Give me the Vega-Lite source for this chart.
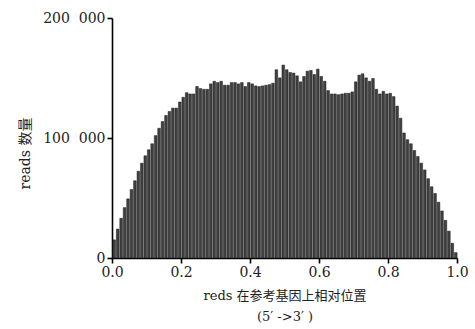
{
  "$schema": "https://vega.github.io/schema/vega-lite/v6.json",
  "width": 345,
  "height": 240,
  "autosize": {"type": "none"},
  "padding": {"left": 112, "top": 18, "right": 18, "bottom": 71},
  "background": "white",
  "config": {
    "view": {"stroke": null},
    "font": "DejaVu Serif, Noto Sans CJK SC"
  },
  "data": {
    "values": [
      {"start": 0.00, "end": 0.01, "reads": 15100},
      {"start": 0.01, "end": 0.02, "reads": 24100},
      {"start": 0.02, "end": 0.03, "reads": 33100},
      {"start": 0.03, "end": 0.04, "reads": 42000},
      {"start": 0.04, "end": 0.05, "reads": 49300},
      {"start": 0.05, "end": 0.06, "reads": 57100},
      {"start": 0.06, "end": 0.07, "reads": 64400},
      {"start": 0.07, "end": 0.08, "reads": 72300},
      {"start": 0.08, "end": 0.09, "reads": 79000},
      {"start": 0.09, "end": 0.10, "reads": 85200},
      {"start": 0.10, "end": 0.11, "reads": 90200},
      {"start": 0.11, "end": 0.12, "reads": 95200},
      {"start": 0.12, "end": 0.13, "reads": 102000},
      {"start": 0.13, "end": 0.14, "reads": 108100},
      {"start": 0.14, "end": 0.15, "reads": 113700},
      {"start": 0.15, "end": 0.16, "reads": 118800},
      {"start": 0.16, "end": 0.17, "reads": 122100},
      {"start": 0.17, "end": 0.18, "reads": 124900},
      {"start": 0.18, "end": 0.19, "reads": 124900},
      {"start": 0.19, "end": 0.20, "reads": 130000},
      {"start": 0.20, "end": 0.21, "reads": 133900},
      {"start": 0.21, "end": 0.22, "reads": 137800},
      {"start": 0.22, "end": 0.23, "reads": 136700},
      {"start": 0.23, "end": 0.24, "reads": 136700},
      {"start": 0.24, "end": 0.25, "reads": 142900},
      {"start": 0.25, "end": 0.26, "reads": 141200},
      {"start": 0.26, "end": 0.27, "reads": 140600},
      {"start": 0.27, "end": 0.28, "reads": 140600},
      {"start": 0.28, "end": 0.29, "reads": 145100},
      {"start": 0.29, "end": 0.30, "reads": 147300},
      {"start": 0.30, "end": 0.31, "reads": 146200},
      {"start": 0.31, "end": 0.32, "reads": 147300},
      {"start": 0.32, "end": 0.33, "reads": 144000},
      {"start": 0.33, "end": 0.34, "reads": 144000},
      {"start": 0.34, "end": 0.35, "reads": 146200},
      {"start": 0.35, "end": 0.36, "reads": 146200},
      {"start": 0.36, "end": 0.37, "reads": 145100},
      {"start": 0.37, "end": 0.38, "reads": 146200},
      {"start": 0.38, "end": 0.39, "reads": 142900},
      {"start": 0.39, "end": 0.40, "reads": 146200},
      {"start": 0.40, "end": 0.41, "reads": 145100},
      {"start": 0.41, "end": 0.42, "reads": 143400},
      {"start": 0.42, "end": 0.43, "reads": 142900},
      {"start": 0.43, "end": 0.44, "reads": 143400},
      {"start": 0.44, "end": 0.45, "reads": 144000},
      {"start": 0.45, "end": 0.46, "reads": 144500},
      {"start": 0.46, "end": 0.47, "reads": 145700},
      {"start": 0.47, "end": 0.48, "reads": 156900},
      {"start": 0.48, "end": 0.49, "reads": 150100},
      {"start": 0.49, "end": 0.50, "reads": 160800},
      {"start": 0.50, "end": 0.51, "reads": 156900},
      {"start": 0.51, "end": 0.52, "reads": 154600},
      {"start": 0.52, "end": 0.53, "reads": 154100},
      {"start": 0.53, "end": 0.54, "reads": 151800},
      {"start": 0.54, "end": 0.55, "reads": 146800},
      {"start": 0.55, "end": 0.56, "reads": 151300},
      {"start": 0.56, "end": 0.57, "reads": 155700},
      {"start": 0.57, "end": 0.58, "reads": 156300},
      {"start": 0.58, "end": 0.59, "reads": 152900},
      {"start": 0.59, "end": 0.60, "reads": 157400},
      {"start": 0.60, "end": 0.61, "reads": 151300},
      {"start": 0.61, "end": 0.62, "reads": 147300},
      {"start": 0.62, "end": 0.63, "reads": 139500},
      {"start": 0.63, "end": 0.64, "reads": 136700},
      {"start": 0.64, "end": 0.65, "reads": 136700},
      {"start": 0.65, "end": 0.66, "reads": 136100},
      {"start": 0.66, "end": 0.67, "reads": 136700},
      {"start": 0.67, "end": 0.68, "reads": 137300},
      {"start": 0.68, "end": 0.69, "reads": 137300},
      {"start": 0.69, "end": 0.70, "reads": 138400},
      {"start": 0.70, "end": 0.71, "reads": 146800},
      {"start": 0.71, "end": 0.72, "reads": 152400},
      {"start": 0.72, "end": 0.73, "reads": 153500},
      {"start": 0.73, "end": 0.74, "reads": 150100},
      {"start": 0.74, "end": 0.75, "reads": 147300},
      {"start": 0.75, "end": 0.76, "reads": 149600},
      {"start": 0.76, "end": 0.77, "reads": 140600},
      {"start": 0.77, "end": 0.78, "reads": 136700},
      {"start": 0.78, "end": 0.79, "reads": 138900},
      {"start": 0.79, "end": 0.80, "reads": 136700},
      {"start": 0.80, "end": 0.81, "reads": 137300},
      {"start": 0.81, "end": 0.82, "reads": 134500},
      {"start": 0.82, "end": 0.83, "reads": 126600},
      {"start": 0.83, "end": 0.84, "reads": 116500},
      {"start": 0.84, "end": 0.85, "reads": 104200},
      {"start": 0.85, "end": 0.86, "reads": 98600},
      {"start": 0.86, "end": 0.87, "reads": 95200},
      {"start": 0.87, "end": 0.88, "reads": 89600},
      {"start": 0.88, "end": 0.89, "reads": 84600},
      {"start": 0.89, "end": 0.90, "reads": 79000},
      {"start": 0.90, "end": 0.91, "reads": 73400},
      {"start": 0.91, "end": 0.92, "reads": 66100},
      {"start": 0.92, "end": 0.93, "reads": 59400},
      {"start": 0.93, "end": 0.94, "reads": 53800},
      {"start": 0.94, "end": 0.95, "reads": 46500},
      {"start": 0.95, "end": 0.96, "reads": 39200},
      {"start": 0.96, "end": 0.97, "reads": 31400},
      {"start": 0.97, "end": 0.98, "reads": 22400},
      {"start": 0.98, "end": 0.99, "reads": 12300},
      {"start": 0.99, "end": 1.00, "reads": 4500}
    ]
  },
  "mark": {"type": "bar", "fill": "#404040", "stroke": "#1e1e1e", "strokeWidth": 0.5, "binSpacing": 0.8},
  "encoding": {
    "x": {
      "field": "start", "type": "quantitative", "bin": {"binned": true, "step": 0.01},
      "scale": {"domain": [0, 1], "nice": false, "zero": false},
      "axis": {
        "values": [0, 0.2, 0.4, 0.6, 0.8, 1.0],
        "format": ".1f",
        "grid": false,
        "domainColor": "black", "domainWidth": 1.6,
        "tickColor": "black", "tickWidth": 1.6, "tickSize": 5,
        "labelFontSize": 14, "labelColor": "#222", "labelPadding": 2,
        "labelFlush": false,
        "title": ["reds 在参考基因上相对位置", "(5′ ->3′ )"],
        "titleFontSize": 13, "titleFontWeight": "normal", "titleColor": "#222",
        "titlePadding": 10, "titleLineHeight": 21
      }
    },
    "x2": {"field": "end"},
    "y": {
      "field": "reads", "type": "quantitative",
      "scale": {"domain": [0, 200000], "nice": false},
      "axis": {
        "values": [0, 100000, 200000],
        "labelExpr": "datum.value == 0 ? '0' : format(datum.value / 1000, 'd') + '\u00a0\u00a0000'",
        "grid": false,
        "domainColor": "black", "domainWidth": 1.6,
        "tickColor": "black", "tickWidth": 1.6, "tickSize": 5,
        "labelFontSize": 14, "labelColor": "#222", "labelPadding": 2,
        "labelFlush": false,
        "title": "reads 数量",
        "titleFontSize": 14, "titleFontWeight": "normal", "titleColor": "#222",
        "titleX": -87, "titleY": 135, "titleAlign": "center", "titleBaseline": "middle", "titleAngle": -90
      }
    }
  }
}
